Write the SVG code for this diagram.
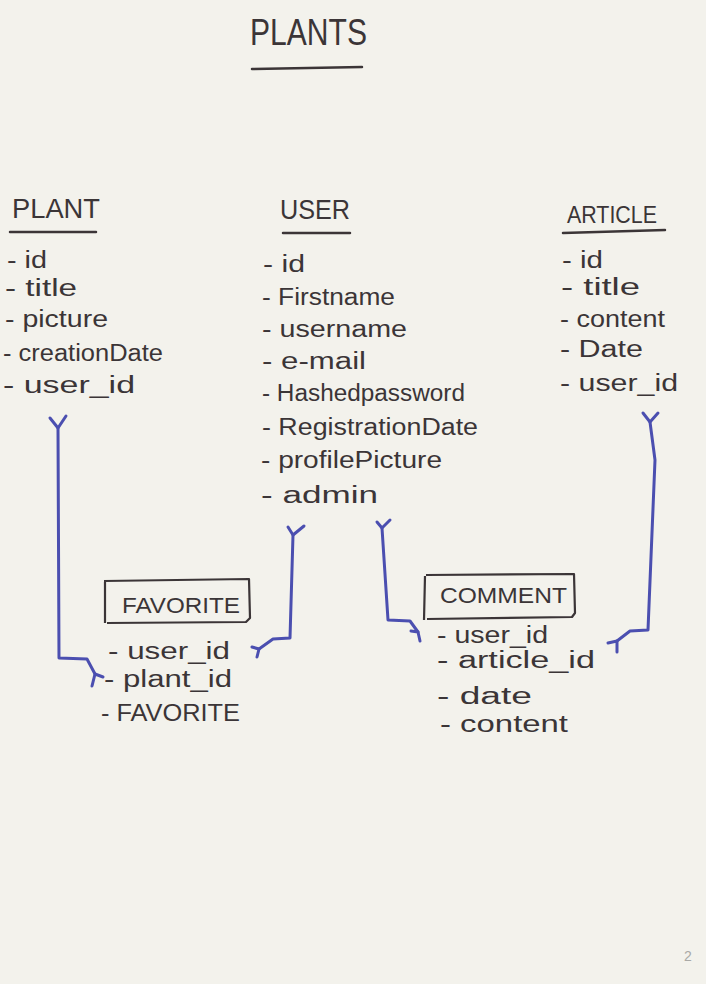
<svg xmlns="http://www.w3.org/2000/svg" width="706" height="984" viewBox="0 0 706 984">
<style>
.ink{fill:#3b3537;font-family:"Liberation Sans","DejaVu Sans",sans-serif;}
.hd{font-size:27px;}
.it{font-size:23px;}
.ul{stroke:#3b3537;stroke-width:2.5;stroke-linecap:round;fill:none;}
.box{stroke:#3b3537;stroke-width:2.2;fill:none;stroke-linejoin:round;}
.cn{stroke:#4b4fb0;stroke-width:3;fill:none;stroke-linecap:round;stroke-linejoin:round;}
</style>
<rect width="706" height="984" fill="#f3f2ec"/>

<g id="title">
<text class="ink" x="250" y="45" font-size="36" textLength="117" lengthAdjust="spacingAndGlyphs">PLANTS</text>
<path class="ul" d="M252,69 L362,67"/>
</g>

<g id="plant">
<text class="ink hd" x="12" y="218" textLength="88" lengthAdjust="spacingAndGlyphs">PLANT</text>
<path class="ul" d="M10,232 L96,232"/>
<text class="ink it" x="7" y="268" textLength="40" lengthAdjust="spacingAndGlyphs">- id</text>
<text class="ink it" x="5" y="296" textLength="72" lengthAdjust="spacingAndGlyphs">- title</text>
<text class="ink it" x="5" y="327" textLength="103" lengthAdjust="spacingAndGlyphs">- picture</text>
<text class="ink it" x="3" y="361" textLength="160" lengthAdjust="spacingAndGlyphs">- creationDate</text>
<text class="ink it" x="3" y="393" textLength="132" lengthAdjust="spacingAndGlyphs">- user_id</text>
</g>

<g id="user">
<text class="ink hd" x="280" y="219" textLength="70" lengthAdjust="spacingAndGlyphs">USER</text>
<path class="ul" d="M283,233 L350,233"/>
<text class="ink it" x="263" y="272" textLength="42" lengthAdjust="spacingAndGlyphs">- id</text>
<text class="ink it" x="262" y="305" textLength="133" lengthAdjust="spacingAndGlyphs">- Firstname</text>
<text class="ink it" x="262" y="337" textLength="145" lengthAdjust="spacingAndGlyphs">- username</text>
<text class="ink it" x="262" y="369" textLength="104" lengthAdjust="spacingAndGlyphs">- e-mail</text>
<text class="ink it" x="262" y="401" textLength="203" lengthAdjust="spacingAndGlyphs">- Hashedpassword</text>
<text class="ink it" x="262" y="435" textLength="216" lengthAdjust="spacingAndGlyphs">- RegistrationDate</text>
<text class="ink it" x="261" y="468" textLength="181" lengthAdjust="spacingAndGlyphs">- profilePicture</text>
<text class="ink it" x="261" y="503" textLength="117" lengthAdjust="spacingAndGlyphs">- admin</text>
</g>

<g id="article">
<text class="ink" x="567" y="223" font-size="24" textLength="90" lengthAdjust="spacingAndGlyphs">ARTICLE</text>
<path class="ul" d="M563,233 L665,230"/>
<text class="ink it" x="562" y="268" textLength="41" lengthAdjust="spacingAndGlyphs">- id</text>
<text class="ink it" x="561" y="295" textLength="79" lengthAdjust="spacingAndGlyphs">- title</text>
<text class="ink it" x="560" y="327" textLength="105" lengthAdjust="spacingAndGlyphs">- content</text>
<text class="ink it" x="560" y="357" textLength="83" lengthAdjust="spacingAndGlyphs">- Date</text>
<text class="ink it" x="560" y="391" textLength="118" lengthAdjust="spacingAndGlyphs">- user_id</text>
</g>

<g id="favorite">
<path class="box" d="M105,582 L105,623 M104,581 L249,579 L250,618 L246,622 L107,623"/>
<text class="ink" x="122" y="613" font-size="22" textLength="118" lengthAdjust="spacingAndGlyphs">FAVORITE</text>
<text class="ink it" x="108" y="659" textLength="122" lengthAdjust="spacingAndGlyphs">- user_id</text>
<text class="ink it" x="104" y="687" textLength="128" lengthAdjust="spacingAndGlyphs">- plant_id</text>
<text class="ink it" x="101" y="721" textLength="139" lengthAdjust="spacingAndGlyphs">- FAVORITE</text>
</g>

<g id="comment">
<path class="box" d="M425,576 L424,620 M426,575 L574,574 L575,613 L572,617 L427,619"/>
<text class="ink" x="440" y="603" font-size="22" textLength="127" lengthAdjust="spacingAndGlyphs">COMMENT</text>
<text class="ink it" x="437" y="643" textLength="111" lengthAdjust="spacingAndGlyphs">- user_id</text>
<text class="ink it" x="437" y="668" textLength="158" lengthAdjust="spacingAndGlyphs">- article_id</text>
<text class="ink it" x="437" y="704" textLength="95" lengthAdjust="spacingAndGlyphs">- date</text>
<text class="ink it" x="440" y="732" textLength="128" lengthAdjust="spacingAndGlyphs">- content</text>
</g>

<g id="connectors">
<path class="cn" d="M58,428 L59,658 L87,659 L95,674"/>
<path class="cn" d="M50,418 L58,428 L66,416"/>
<path class="cn" d="M92,686 L95,674 L103,677"/>

<path class="cn" d="M293,535 L290,638 L273,639 L259,649"/>
<path class="cn" d="M288,527 L293,535 L304,526"/>
<path class="cn" d="M252,647 L259,649 L257,657"/>

<path class="cn" d="M382,528 L388,620 L410,621 L418,632"/>
<path class="cn" d="M377,522 L382,528 L390,520"/>
<path class="cn" d="M411,631 L418,632 L420,641"/>

<path class="cn" d="M650,422 L655,460 L648,630 L630,631 L617,641"/>
<path class="cn" d="M643,413 L650,422 L658,413"/>
<path class="cn" d="M608,643 L617,641 L617,652"/>
</g>

<text x="688" y="961" font-family="Liberation Sans, sans-serif" font-size="14" fill="#a9a9a6" text-anchor="middle">2</text>
</svg>
